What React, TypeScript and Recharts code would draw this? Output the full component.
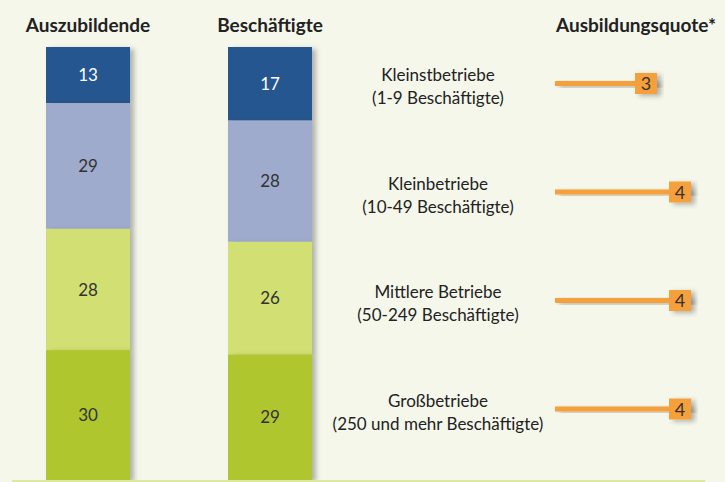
import { BarChart, Bar, XAxis, YAxis, LabelList } from 'recharts';

// shares in percent, top to bottom: Kleinst-, Klein-, Mittlere, Großbetriebe
const groups = ['Auszubildende', 'Beschäftigte'];
const kleinst = [13, 17];
const klein = [29, 28];
const mittel = [28, 26];
const gross = [30, 29];

const sizeNames = ['Kleinstbetriebe', 'Kleinbetriebe', 'Mittlere Betriebe', 'Großbetriebe'];
const sizeRanges = ['(1-9 Beschäftigte)', '(10-49 Beschäftigte)', '(50-249 Beschäftigte)', '(250 und mehr Beschäftigte)'];
const quote = [3, 4, 4, 4];

const BG = '#f5f7eb';
const FONT = 'Lato, "Open Sans", sans-serif';
const ORANGE = '#f6a03a';

const stackData = groups.map((g, i) => ({
  group: g,
  kleinst: kleinst[i],
  klein: klein[i],
  mittel: mittel[i],
  gross: gross[i],
}));

const quoteData = sizeNames.map((n, i) => ({ name: n, range: sizeRanges[i], quote: quote[i] }));

// reversed axis gives negative heights, so normalise before drawing
const ShadowRect = (props: any) => {
  let { x, y, width, height } = props;
  if (height < 0) { y += height; height = -height; }
  if (width < 0) { x += width; width = -width; }
  return <rect x={x} y={y} width={width} height={height} fill={props.fill} filter="url(#barShadow)" />;
};

const HeaderTick = (props: any) => {
  const { x, y, payload } = props;
  return (
    <text x={x} y={y - 15} textAnchor="middle" fontFamily={FONT} fontSize={19} fontWeight={700} fill="#222">
      {payload.value}
    </text>
  );
};

const RowTick = (props: any) => {
  const { x, y, payload, index } = props;
  const cx = x - 117;
  return (
    <text textAnchor="middle" fontFamily={FONT} fontSize={17} fill="#222">
      <tspan x={cx} y={y - 2}>{payload.value}</tspan>
      <tspan x={cx} y={y + 21}>{sizeRanges[index]}</tspan>
    </text>
  );
};

const QuoteBox = (props: any) => {
  const { x, y, width, height, value } = props;
  const cy = y + height / 2;
  const right = x + width;
  return (
    <g>
      <rect x={right - 22} y={cy - 10.5} width={22} height={21} fill={ORANGE} filter="url(#barShadow)" />
      <text x={right - 11} y={cy + 6.5} textAnchor="middle" fontFamily={FONT} fontSize={18} fill="#333">
        {value}
      </text>
    </g>
  );
};

const segLabel = (fill: string) => ({ fontFamily: FONT, fontSize: 17, fill });

export default function App() {
  return (
    <div style={{ position: 'absolute', left: 0, top: 0, width: 725, height: 482, background: BG, overflow: 'hidden' }}>
      <svg width={0} height={0} style={{ position: 'absolute' }}>
        <defs>
          <filter id="barShadow" x="-20%" y="-20%" width="150%" height="150%">
            <feDropShadow dx={4} dy={2} stdDeviation={2.5} floodColor="#000" floodOpacity={0.28} />
          </filter>
        </defs>
      </svg>

      <div style={{ position: 'absolute', left: -3, top: 0 }}>
        <BarChart width={364} height={482} data={stackData} margin={{ top: 0, right: 0, bottom: 2, left: 0 }}>
          <XAxis
            dataKey="group"
            orientation="top"
            height={47}
            axisLine={false}
            tickLine={false}
            tickSize={0}
            tickMargin={0}
            tick={<HeaderTick />}
            interval={0}
          />
          <YAxis hide domain={[0, 100]} reversed />
          <Bar dataKey="kleinst" stackId="a" fill="#28568f" barSize={84} shape={<ShadowRect />} isAnimationActive={false}>
            <LabelList dataKey="kleinst" position="center" style={segLabel('#ffffff')} />
          </Bar>
          <Bar dataKey="klein" stackId="a" fill="#9fabcd" barSize={84} shape={<ShadowRect />} isAnimationActive={false}>
            <LabelList dataKey="klein" position="center" style={segLabel('#333333')} />
          </Bar>
          <Bar dataKey="mittel" stackId="a" fill="#d2df72" barSize={84} shape={<ShadowRect />} isAnimationActive={false}>
            <LabelList dataKey="mittel" position="center" style={segLabel('#333333')} />
          </Bar>
          <Bar dataKey="gross" stackId="a" fill="#b0c62d" barSize={84} shape={<ShadowRect />} isAnimationActive={false}>
            <LabelList dataKey="gross" position="center" style={segLabel('#333333')} />
          </Bar>
        </BarChart>
      </div>

      <div style={{ position: 'absolute', left: 330, top: 0 }}>
        <BarChart
          width={395}
          height={482}
          data={quoteData}
          layout="vertical"
          margin={{ top: 29, right: 0, bottom: 19, left: 0 }}
        >
          <XAxis type="number" hide domain={[0, 5]} />
          <YAxis
            type="category"
            dataKey="name"
            width={225}
            axisLine={false}
            tickLine={false}
            tickSize={0}
            tickMargin={0}
            tick={<RowTick />}
            interval={0}
          />
          <Bar dataKey="quote" fill={ORANGE} barSize={5} shape={<ShadowRect />} isAnimationActive={false}>
            <LabelList dataKey="quote" content={<QuoteBox />} />
          </Bar>
          <text x={306} y={32} textAnchor="middle" fontFamily={FONT} fontSize={19} fontWeight={700} fill="#222">
            Ausbildungsquote*
          </text>
        </BarChart>
      </div>

      <div style={{ position: 'absolute', left: 12, top: 480, width: 693, height: 2, background: '#dce8a0' }} />
    </div>
  );
}
